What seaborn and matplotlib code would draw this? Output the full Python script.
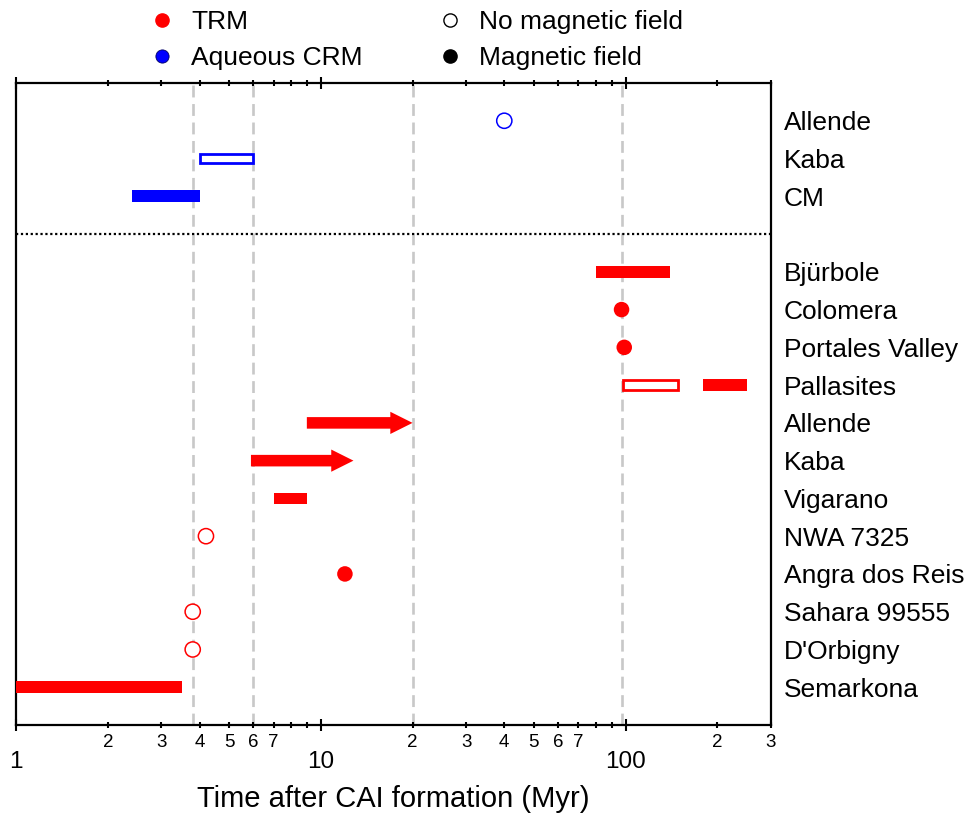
import numpy as np
import pandas as pd
import matplotlib
matplotlib.use("Agg")
import matplotlib.pyplot as plt
from matplotlib.lines import Line2D
from matplotlib.ticker import FixedLocator, FixedFormatter, NullFormatter
import seaborn as sns

# ---------------- data ----------------
row_labels = ["Semarkona", "D'Orbigny", "Sahara 99555", "Angra dos Reis", "NWA 7325",
              "Vigarano", "Kaba", "Allende", "Pallasites", "Portales Valley",
              "Colomera", "Bjürbole", "CM", "Kaba", "Allende"]
row_pos = [0, 1, 2, 3, 4, 5, 6, 7, 8, 9, 10, 11, 13, 14, 15]
separator_y = 12

# filled range bars (magnetic field)
bar_row = [0, 5, 8, 11, 13]
bar_start = [1.0, 7.0, 180.0, 80.0, 2.4]
bar_end = [3.5, 9.0, 250.0, 140.0, 4.0]
bar_type = ["TRM", "TRM", "TRM", "TRM", "Aqueous CRM"]

# open range bars (no magnetic field)
obar_row = [8, 14]
obar_start = [98.0, 4.0]
obar_end = [149.0, 6.0]
obar_type = ["TRM", "Aqueous CRM"]

# arrows (lower limit onwards, magnetic field)
arr_row = [6, 7]
arr_start = [5.9, 9.0]
arr_end = [12.8, 20.0]

# points
pt_row = [1, 2, 4, 15, 3, 10, 9]
pt_x = [3.8, 3.8, 4.2, 40.0, 12.0, 97.0, 99.0]
pt_field = ["No", "No", "No", "No", "Yes", "Yes", "Yes"]
pt_type = ["TRM", "TRM", "TRM", "Aqueous CRM", "TRM", "TRM", "TRM"]

vline_x = [3.8, 6.0, 20.0, 97.0]

major_ticks = [1, 10, 100]
major_labels = ["1", "10", "100"]
minor_ticks = [2, 3, 4, 5, 6, 7, 8, 9, 20, 30, 40, 50, 60, 70, 80, 90, 200, 300]
minor_labels = ["2", "3", "4", "5", "6", "7", "", "", "2", "3", "4", "5", "6", "7", "", "", "2", "3"]

colors = {"TRM": "#ff0000", "Aqueous CRM": "#0000ff"}

# ---------------- style ----------------
sns.set_theme(style="white")
plt.rcParams["font.family"] = ["Liberation Sans", "DejaVu Sans"]
plt.rcParams["text.color"] = "black"
plt.rcParams["axes.labelcolor"] = "black"

fig = plt.figure(figsize=(9.67, 8.13), dpi=100)
ax = fig.add_axes([16 / 967, 1 - 725 / 813, (771 - 16) / 967, (725 - 83) / 813])

ax.set_xscale("log")
ax.set_xlim(1, 300)
ax.set_ylim(-1, 16)

# guides
for xv in vline_x:
    ax.axvline(xv, color="#c8c8c8", lw=1.9, ls=(0, (4.5, 2.5)), zorder=0)
ax.axhline(separator_y, color="black", lw=1.6, ls=(0, (1, 1.2)), zorder=1)

# filled bars
for r, s, e, t in zip(bar_row, bar_start, bar_end, bar_type):
    ax.barh(r, e - s, left=s, height=0.31, color=colors[t], edgecolor="none", zorder=3)

# open bars
for r, s, e, t in zip(obar_row, obar_start, obar_end, obar_type):
    ax.barh(r, e - s, left=s, height=0.25, facecolor="white", edgecolor=colors[t],
            linewidth=2.0, zorder=3)

# arrows
for r, s, e in zip(arr_row, arr_start, arr_end):
    ax.annotate("", xy=(e, r), xytext=(s, r),
                arrowprops=dict(arrowstyle="simple,head_length=1.0,head_width=1.0,tail_width=0.52",
                                color=colors["TRM"], shrinkA=0, shrinkB=0, lw=0,
                                mutation_scale=16), zorder=3)

# points
df = pd.DataFrame({"x": pt_x, "y": pt_row, "field": pt_field, "type": pt_type})
filled = df[df.field == "Yes"]
opened = df[df.field == "No"]
sns.scatterplot(data=filled, x="x", y="y", hue="type", palette=colors, s=125,
                linewidth=0, legend=False, ax=ax, zorder=4)
sns.scatterplot(data=opened, x="x", y="y", hue="type", palette=colors, s=120,
                linewidth=1.1, legend=False, ax=ax, zorder=4)
coll = ax.collections[-1]
fcs = coll.get_facecolors()
coll.set_edgecolors(fcs)
coll.set_facecolors("white")

# axes/ticks
ax.xaxis.set_major_locator(FixedLocator(major_ticks))
ax.xaxis.set_major_formatter(FixedFormatter(major_labels))
ax.xaxis.set_minor_locator(FixedLocator(minor_ticks))
ax.xaxis.set_minor_formatter(FixedFormatter(minor_labels))
ax.tick_params(axis="x", which="major", direction="inout", length=8, width=1.5,
               top=True, bottom=True, labeltop=False, labelsize=17.5, pad=15, colors="black")
ax.tick_params(axis="x", which="minor", direction="inout", length=4.5, width=1.5,
               top=True, bottom=True, labeltop=False, labelsize=13.5, pad=4.5, colors="black")

ax.yaxis.set_major_locator(FixedLocator(row_pos))
ax.yaxis.set_major_formatter(FixedFormatter(row_labels))
ax.yaxis.tick_right()
ax.tick_params(axis="y", which="both", length=0, labelsize=19, pad=9, labelcolor="black",
               left=False, right=False)
ax.set_ylabel("")
ax.set_xlabel("Time after CAI formation (Myr)", fontsize=21, labelpad=8, color="black")

for sp in ax.spines.values():
    sp.set_visible(True)
    sp.set_color("black")
    sp.set_linewidth(1.6)

# legend
handles = [
    Line2D([], [], ls="", marker="o", ms=9.5, color=colors["TRM"], mec=colors["TRM"]),
    Line2D([], [], ls="", marker="o", ms=9.5, color=colors["Aqueous CRM"], mec="#000060", mew=0.6),
    Line2D([], [], ls="", marker="o", ms=9.5, mfc="white", mec="black", mew=1.0),
    Line2D([], [], ls="", marker="o", ms=9.5, color="black"),
]
labels = ["TRM", "Aqueous CRM", "No magnetic field", "Magnetic field"]
fig.legend(handles, labels, ncol=2, loc="upper left", bbox_to_anchor=(149 / 967, 1 - 10 / 813),
           frameon=False, fontsize=19, handlelength=1.0, handletextpad=0.6,
           columnspacing=2.8, labelspacing=0.46, borderpad=0, borderaxespad=0,
           labelcolor="black")

fig.savefig("out.png", dpi=100)
